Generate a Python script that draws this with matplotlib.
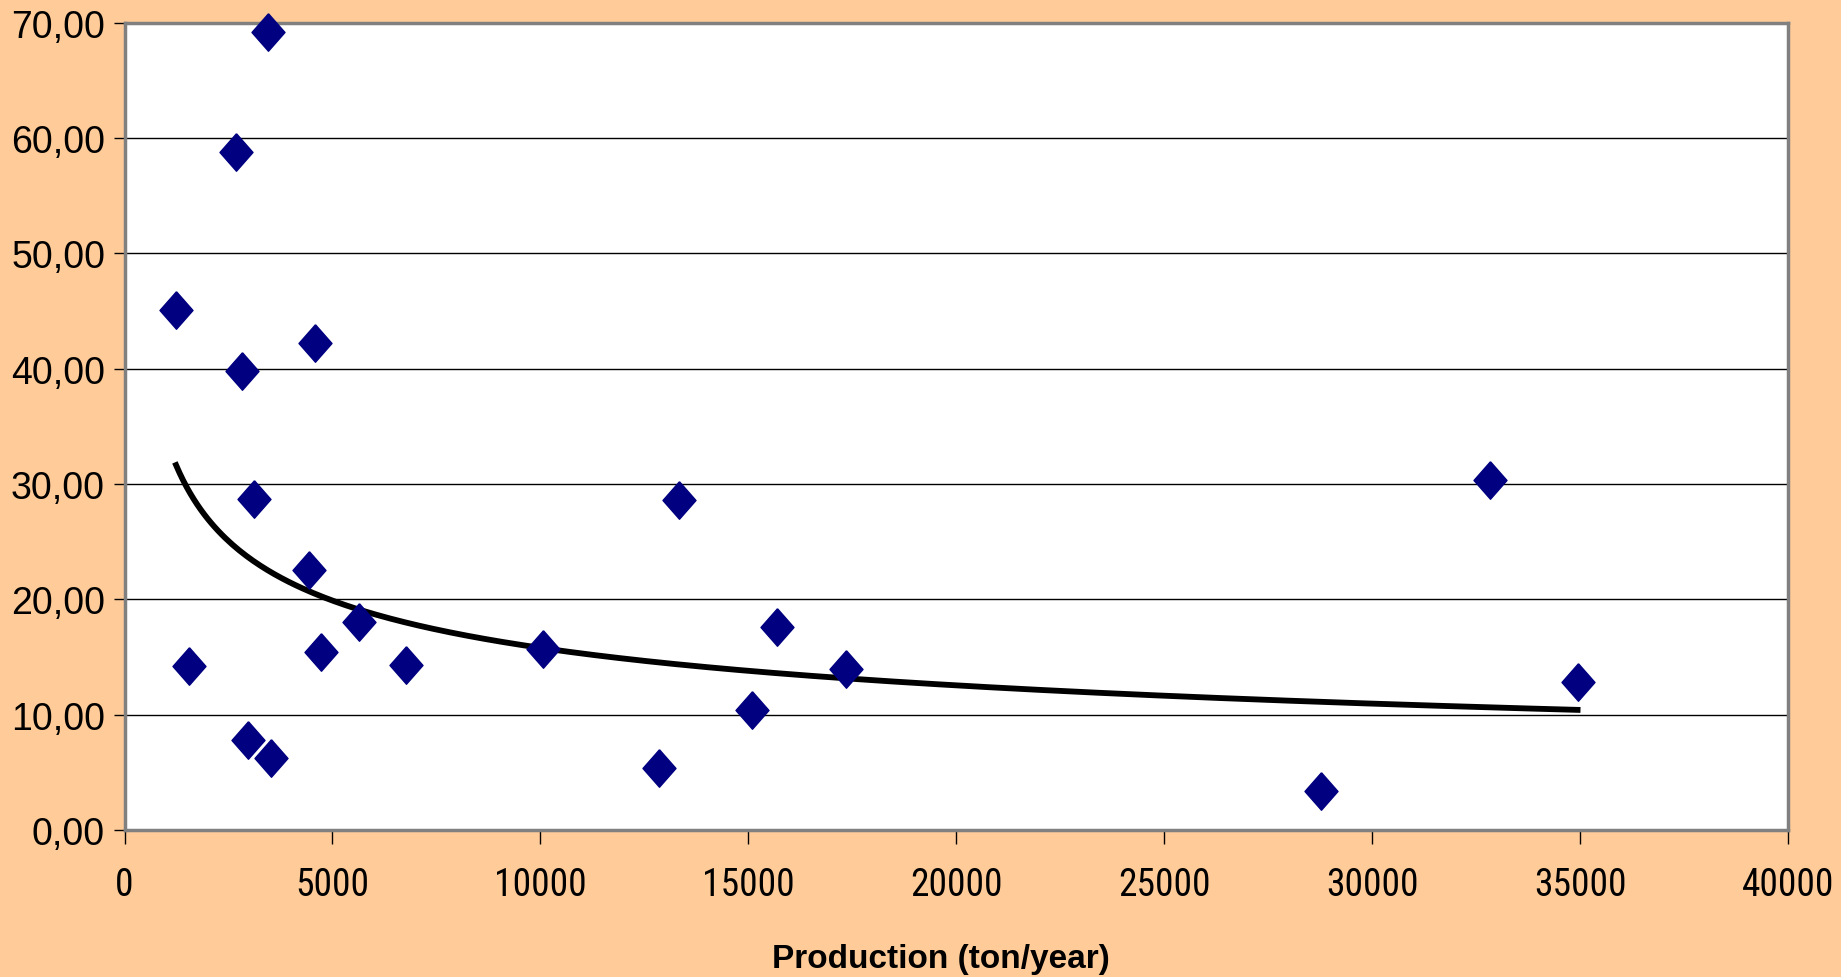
import numpy as np
import matplotlib
matplotlib.use('Agg')
import matplotlib.pyplot as plt
from matplotlib import font_manager
from matplotlib.ticker import FuncFormatter

# production (ton/year) and the value on the y axis
production = [1240, 1550, 2680, 2830, 2970, 3110, 3450, 3530, 4440, 4580,
              4720, 5650, 6780, 10060, 12850, 13330, 15090, 15680, 17350,
              28760, 32830, 34940]
values = [45.1, 14.2, 58.8, 39.8, 7.8, 28.7, 69.2, 6.2, 22.5, 42.2,
          15.4, 18.0, 14.3, 15.7, 5.4, 28.6, 10.4, 17.6, 14.0,
          3.4, 30.3, 12.8]

x_ticks = [0, 5000, 10000, 15000, 20000, 25000, 30000, 35000, 40000]
y_ticks = [0, 10, 20, 30, 40, 50, 60, 70]

bg = '#FFCC99'
navy = '#000080'

plt.rcParams['font.family'] = ['Liberation Sans', 'DejaVu Sans']

# narrow face for the x tick labels if there is one
names = {f.name for f in font_manager.fontManager.ttflist}
narrow = None
for cand in ['Liberation Sans Narrow', 'Arial Narrow', 'Roboto Condensed', 'Open Sans Condensed']:
    if cand in names:
        narrow = cand
        break

fig = plt.figure(figsize=(18.41, 9.78), dpi=100, facecolor=bg)
ax = fig.add_axes([124.5 / 1841, 1 - 831 / 978, (1788 - 124.5) / 1841, (831 - 23.5) / 978])
ax.set_facecolor('white')

ax.set_xlim(0, 40000)
ax.set_ylim(0, 70)
ax.set_xticks(x_ticks)
ax.set_yticks(y_ticks)
ax.yaxis.set_major_formatter(FuncFormatter(lambda v, p: f'{v:.2f}'.replace('.', ',')))

ax.grid(axis='y', color='black', linewidth=1.0)
ax.set_axisbelow(True)

for s in ax.spines.values():
    s.set_color('#808080')
    s.set_linewidth(2.5)

ax.tick_params(axis='both', direction='out', color='black', width=1.0)
ax.tick_params(axis='y', length=8, labelsize=27, pad=6)
ax.tick_params(axis='x', length=10, pad=16)
for lab in ax.get_xticklabels():
    if narrow:
        lab.set_family([narrow, 'Liberation Sans'])
        lab.set_fontsize(27)
    else:
        lab.set_fontsize(23)

# power trend line y = c * x^k fitted on the data
px = np.array(production, dtype=float)
py = np.array(values, dtype=float)
k, lnc = np.polyfit(np.log(px), np.log(py), 1)
xt = np.linspace(px.min(), px.max(), 400)
ax.plot(xt, np.exp(lnc) * xt ** k, color='black', linewidth=4.2, zorder=3)

diamond = [(0, 1), (0.88, 0), (0, -1), (-0.88, 0), (0, 1)]
ax.plot(production, values, linestyle='none', marker=diamond, markersize=27,
        color=navy, markeredgecolor=navy, zorder=4, clip_on=False)

fig.text(941 / 1841, 1 - 968 / 978, 'Production (ton/year)', ha='center', va='baseline',
         fontsize=24, fontweight='bold')

fig.savefig('out.png', dpi=100, facecolor=bg)
